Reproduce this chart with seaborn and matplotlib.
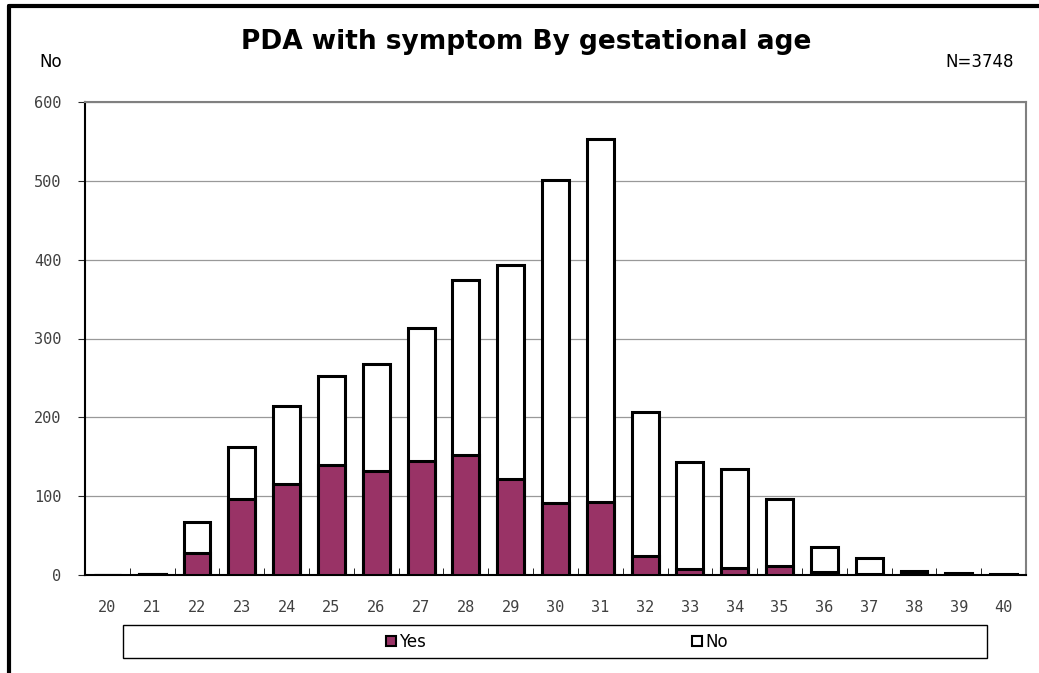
import numpy as np
import pandas as pd
import matplotlib
matplotlib.use('Agg')
import matplotlib.pyplot as plt
from matplotlib.patches import Rectangle, Patch
from matplotlib.lines import Line2D
import seaborn as sns

# Data
ages = ['20', '21', '22', '23', '24', '25', '26', '27', '28', '29', '30',
        '31', '32', '33', '34', '35', '36', '37', '38', '39', '40']
yes_counts = [0, 1, 28, 96, 115, 140, 132, 144, 152, 122, 91,
              92, 24, 8, 9, 12, 4, 1, 4, 1, 0]
total_counts = [0, 1, 67, 163, 215, 253, 268, 313, 374, 393, 501,
                553, 207, 143, 135, 97, 36, 21, 5, 2, 1]
yticks = [0, 100, 200, 300, 400, 500, 600]

df = pd.DataFrame({'age': ages, 'yes': yes_counts, 'total': total_counts})

sns.set_style('white')
plt.rcParams['font.family'] = ['DejaVu Sans']
plt.rcParams['text.color'] = 'black'

fig = plt.figure(figsize=(10.39, 6.73), dpi=100)
ax = fig.add_axes([85 / 1039, 1 - 575 / 673, (1026 - 85) / 1039, (575 - 102) / 673])

# total bar (white = "No" part) then the "Yes" part on top of it
sns.barplot(data=df, x='age', y='total', order=ages, color='white',
            edgecolor='black', linewidth=2.2, width=0.6, saturation=1, ax=ax, zorder=3)
sns.barplot(data=df, x='age', y='yes', order=ages, color='#993366',
            edgecolor='black', linewidth=2.2, width=0.6, saturation=1, ax=ax, zorder=4)

ax.set_xlim(-0.5, len(ages) - 0.5)
ax.set_ylim(0, 600)
ax.set_yticks(yticks)
ax.set_yticklabels([str(v) for v in yticks], family='DejaVu Sans Mono', fontsize=11, color='#404040')
ax.set_xticks(range(len(ages)))
ax.set_xticklabels(ages, family='DejaVu Sans Mono', fontsize=11, color='#404040')
ax.set_xticks(np.arange(0.5, len(ages) - 1, 1), minor=True)
ax.tick_params(axis='x', which='major', length=0, pad=18)
ax.tick_params(axis='x', which='minor', direction='in', length=5, color='black', bottom=True)
ax.tick_params(axis='y', which='major', direction='out', length=5, left=True, pad=12)
ax.set_xlabel('')
ax.set_ylabel('')

ax.yaxis.grid(True, color='#999999', linewidth=0.9)
ax.set_axisbelow(True)
for s in ['top', 'right']:
    ax.spines[s].set_color('#808080')
    ax.spines[s].set_linewidth(1.5)
for s in ['left', 'bottom']:
    ax.spines[s].set_color('black')
    ax.spines[s].set_linewidth(1.5)

# texts
fig.text(526 / 1039, 1 - 42 / 673, 'PDA with symptom By gestational age',
         ha='center', va='center', fontsize=19, fontweight='bold', color='black')
fig.text(51 / 1039, 1 - 62 / 673, 'No', ha='center', va='center', fontsize=12, color='black')
fig.text(1014 / 1039, 1 - 62 / 673, 'N=3748', ha='right', va='center', fontsize=12, color='black')

# legend box
fig.patches.append(Rectangle((123 / 1039, 1 - 658 / 673), (987 - 123) / 1039, 33 / 673,
                             transform=fig.transFigure, fill=False, edgecolor='black',
                             linewidth=1, figure=fig))
handles = [Patch(facecolor='#993366', edgecolor='black', linewidth=1.5, label='Yes'),
           Patch(facecolor='white', edgecolor='black', linewidth=1.5, label='No')]
fig.legend(handles=handles, loc='center', bbox_to_anchor=(557 / 1039, 1 - 642 / 673),
           ncol=2, frameon=False, fontsize=12, handlelength=0.6, handleheight=0.6,
           handletextpad=0.2, columnspacing=16.0, labelcolor='black')

# outer frame lines (left and top)
fig.lines.append(Line2D([9 / 1039, 9 / 1039], [0, 1 - 6 / 673], transform=fig.transFigure,
                        color='black', linewidth=3))
fig.lines.append(Line2D([9 / 1039, 1], [1 - 6 / 673, 1 - 6 / 673], transform=fig.transFigure,
                        color='black', linewidth=3))

fig.savefig('out.png', dpi=100, facecolor='white')
